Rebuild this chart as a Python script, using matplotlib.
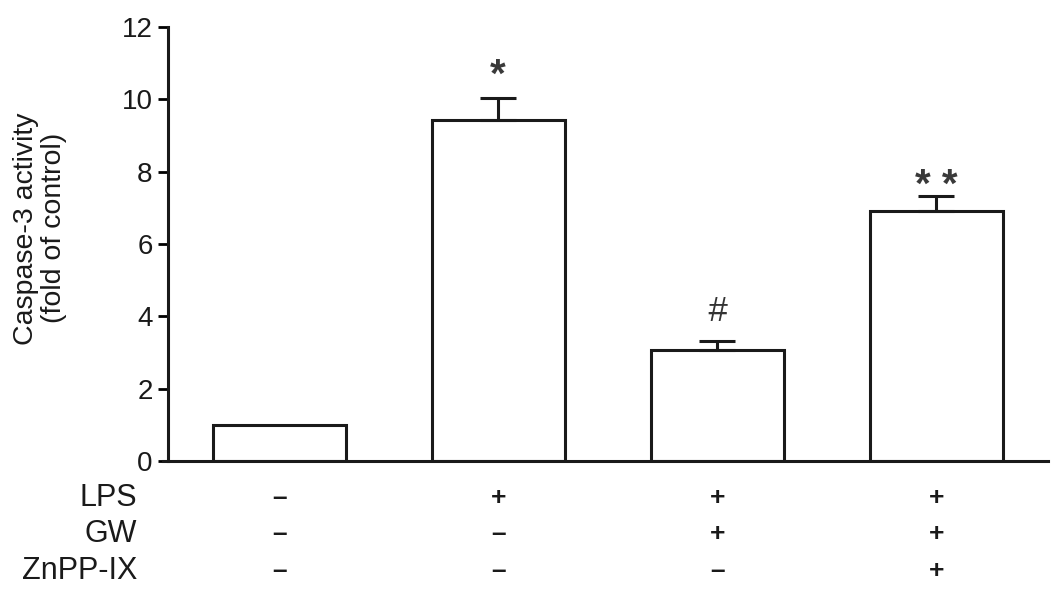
import numpy as np
import matplotlib
matplotlib.use("Agg")
import matplotlib.pyplot as plt

plt.rcParams['font.family'] = ['Liberation Sans', 'DejaVu Sans']

# ============================================================
# Data
# ============================================================
values = [1.0, 9.42, 3.07, 6.92]
errors = [0.0, 0.62, 0.25, 0.42]
marks = ["", "*", "#", "* *"]
row_names = ["LPS", "GW", "ZnPP-IX"]
row_signs = [
    ["\u2013", "+", "+", "+"],
    ["\u2013", "\u2013", "+", "+"],
    ["\u2013", "\u2013", "\u2013", "+"],
]
yticks = [0, 2, 4, 6, 8, 10, 12]

# ============================================================
# Figure
# ============================================================
fig = plt.figure(figsize=(10.63, 5.96), dpi=100)
ax = fig.add_axes([0.158, 0.2265, 0.828, 0.7282])

x = np.arange(len(values))
ax.bar(x, values, width=0.607, color="white", edgecolor="#1a1a1a", linewidth=2.2, zorder=2)
# upward-only error bars
ax.errorbar(x[1:], values[1:], yerr=[np.zeros(3), errors[1:]], fmt="none",
            ecolor="#1a1a1a", elinewidth=2.2, capsize=13, capthick=2.2, zorder=3)

# significance marks, gap above the error cap (in data units)
mark_gap = [0, 0.72, 0.80, 0.38]
for xi, v, e, m, g in zip(x, values, errors, marks, mark_gap):
    if m:
        yy = v + e + g
        if "*" in m:
            yy -= 0.12  # asterisks sit high in their line box
            ax.text(xi, yy, m, ha="center", va="center", fontsize=29,
                    fontweight="bold", color="#3a3a3a")
        else:
            ax.text(xi, yy, m, ha="center", va="center", fontsize=25,
                    style="italic", color="#333333")

ax.set_xlim(-0.507, 3.51)
ax.set_ylim(0, 12)
ax.set_yticks(yticks)
ax.set_xticks([])
ax.tick_params(axis="y", labelsize=20, length=7, width=2, direction="out", pad=4,
               labelcolor="#1a1a1a")
for s in ["top", "right"]:
    ax.spines[s].set_visible(False)
for s in ["left", "bottom"]:
    ax.spines[s].set_linewidth(2.2)
    ax.spines[s].set_color("#1a1a1a")
ax.spines["bottom"].set_bounds(-0.53, 3.51)

fig.text(0.038, 0.617, "Caspase-3 activity\n(fold of control)", rotation=90,
         ha="center", va="center", fontsize=20.5, linespacing=1.1, color="#1a1a1a")

# treatment table below axis
row_y = [0.164, 0.104, 0.042]
for name, signs, yy in zip(row_names, row_signs, row_y):
    fig.text(0.129, yy, name, ha="right", va="center", fontsize=22, color="#1a1a1a")
    for xi, s in zip(x, signs):
        xf = ax.transData.transform((xi, 0))[0] / fig.bbox.width
        fig.text(xf, yy, s, ha="center", va="center", fontsize=19, fontweight="bold",
                 color="#1a1a1a")

fig.savefig("out.png", dpi=100)
